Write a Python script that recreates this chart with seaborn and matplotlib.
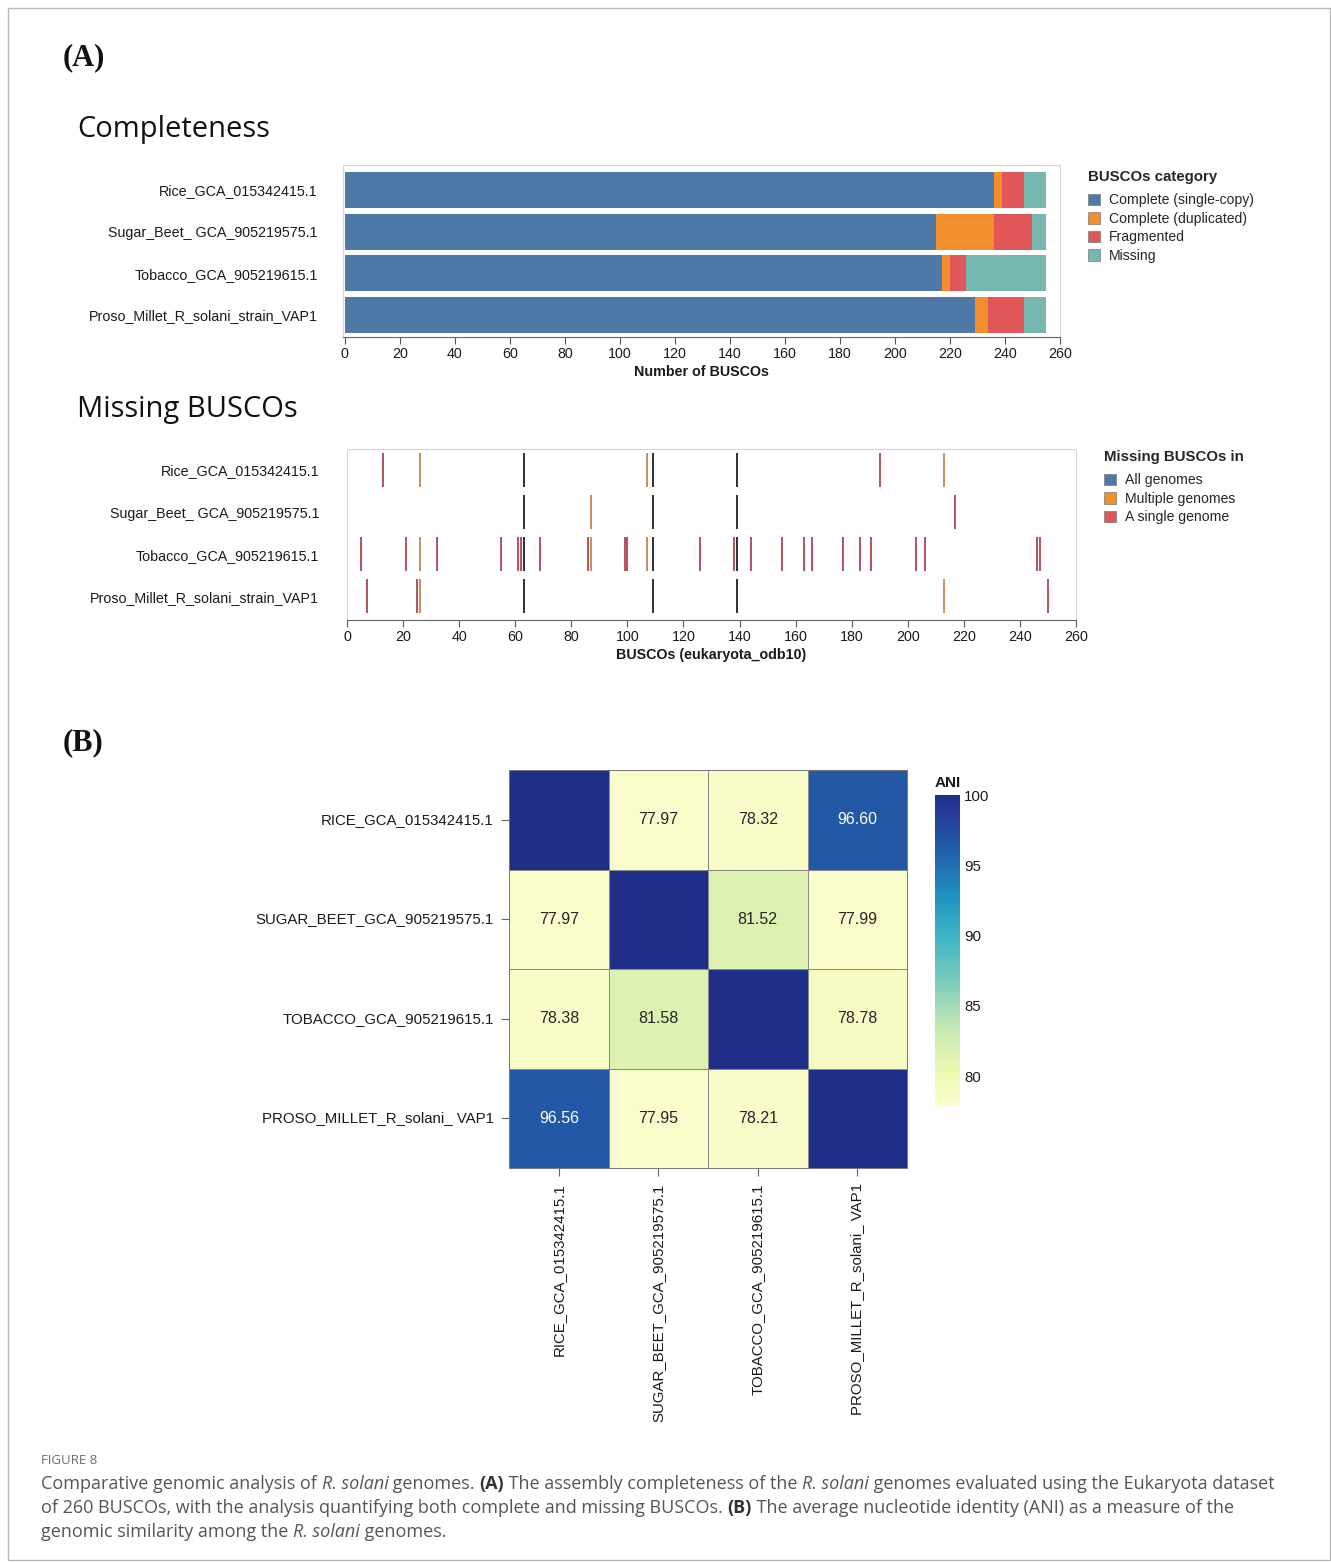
import numpy as np
import pandas as pd
import matplotlib
matplotlib.use("Agg")
import matplotlib.pyplot as plt
import seaborn as sns
from matplotlib.patches import Patch, Rectangle
from matplotlib.colors import LinearSegmentedColormap

# ---------------------------------------------------------------- data
genomes = ["Rice_GCA_015342415.1", "Sugar_Beet_ GCA_905219575.1",
           "Tobacco_GCA_905219615.1", "Proso_Millet_R_solani_strain_VAP1"]

busco_categories = ["Complete (single-copy)", "Complete (duplicated)",
                    "Fragmented", "Missing"]
single_copy = [236, 215, 217, 229]
duplicated = [3, 21, 3, 5]
fragmented = [8, 14, 6, 13]
missing = [8, 5, 29, 8]

# indices of the missing BUSCOs (eukaryota_odb10) per genome
missing_rice = [13, 26, 63, 107, 109, 139, 190, 213]
missing_sugar_beet = [63, 87, 109, 139, 217]
missing_tobacco = [5, 21, 26, 32, 55, 61, 62, 63, 69, 86, 87, 99, 100, 107,
                   109, 126, 138, 139, 144, 155, 163, 166, 177, 183, 187,
                   203, 206, 246, 247]
missing_proso = [7, 25, 26, 63, 109, 139, 213, 250]
missing_groups = ["All genomes", "Multiple genomes", "A single genome"]

ani_labels = ["RICE_GCA_015342415.1", "SUGAR_BEET_GCA_905219575.1",
              "TOBACCO_GCA_905219615.1", "PROSO_MILLET_R_solani_ VAP1"]
ani_rice = [100.00, 77.97, 78.32, 96.60]
ani_sugar_beet = [77.97, 100.00, 81.52, 77.99]
ani_tobacco = [78.38, 81.58, 100.00, 78.78]
ani_proso = [96.56, 77.95, 78.21, 100.00]

# ---------------------------------------------------------------- style
sns.set_theme(style="white")
plt.rcParams["font.family"] = ["Liberation Sans", "DejaVu Sans"]
TXT = "#1a1a1a"
cat_colors = ["#4e79a7", "#f28e2b", "#e15759", "#76b7b2"]
line_colors = {"All genomes": "#2f3033",
               "Multiple genomes": "#c98d5f",
               "A single genome": "#b5525d"}

W, H = 1331, 1562
fig = plt.figure(figsize=(W / 100, H / 100), dpi=100)
fig.patch.set_facecolor("white")


def px_axes(left, top, right, bottom):
    return fig.add_axes([left / W, 1 - bottom / H, (right - left) / W,
                         (bottom - top) / H])


def fig_text(x, y, s, **kw):
    return fig.text(x / W, 1 - y / H, s, **kw)


# outer frame
fig.add_artist(Rectangle((8 / W, 1 - 1560 / H), (1330 - 8) / W, (1560 - 8) / H,
                         transform=fig.transFigure, fill=False,
                         edgecolor="#b8b8b8", linewidth=1.0))

fig_text(63, 58, "(A)", fontsize=22, fontweight="bold",
         family=["Liberation Serif", "DejaVu Serif"], va="center", color="#111")
fig_text(63, 743, "(B)", fontsize=22, fontweight="bold",
         family=["Liberation Serif", "DejaVu Serif"], va="center", color="#111")
fig_text(77, 130, "Completeness", fontsize=21, family=["Open Sans", "DejaVu Sans"],
         va="center", color="#111")
fig_text(77, 409, "Missing BUSCOs", fontsize=21, family=["Open Sans", "DejaVu Sans"],
         va="center", color="#111")


def make_legend(colors, labels, title, x, y):
    leg = fig.legend(handles=[Patch(facecolor=c, edgecolor="#7a7a7a", linewidth=0.5,
                                    label=l) for c, l in zip(colors, labels)],
                     title=title, loc="upper left",
                     bbox_to_anchor=(x / W, 1 - y / H), frameon=False,
                     fontsize=10.1,
                     title_fontproperties={"weight": "bold", "size": 10.8},
                     handlelength=0.9, handleheight=0.9, handletextpad=0.6,
                     labelspacing=0.32, borderaxespad=0)
    leg._legend_box.align = "left"
    leg._legend_box.sep = 7
    return leg


# ---------------------------------------------------------------- completeness
ax1 = px_axes(343, 165, 1060, 337)
counts = pd.DataFrame({"genome": genomes,
                       busco_categories[0]: single_copy,
                       busco_categories[1]: duplicated,
                       busco_categories[2]: fragmented,
                       busco_categories[3]: missing})
cum = counts[busco_categories].cumsum(axis=1)
for cat, col in zip(busco_categories[::-1], cat_colors[::-1]):
    sns.barplot(x=cum[cat], y=counts["genome"], orient="h", color=col,
                saturation=1, width=0.86, linewidth=0, ax=ax1)
ax1.set_xlim(-0.7, 260)
ax1.set_ylim(3.53, -0.6)
ax1.set_xticks(np.arange(0, 261, 20))
ax1.set_xlabel("Number of BUSCOs", fontsize=10.3, fontweight="bold",
               color=TXT, labelpad=3)
ax1.set_ylabel("")
ax1.tick_params(axis="y", length=0, pad=18, labelsize=10.3, labelcolor=TXT)
ax1.tick_params(axis="x", bottom=True, length=5, width=0.8, color="#555",
                pad=2, labelsize=10.3, labelcolor=TXT)
for side in ["top", "right", "left"]:
    ax1.spines[side].set_color("#d6d6d6")
    ax1.spines[side].set_linewidth(0.8)
ax1.spines["bottom"].set_color("#666")
ax1.spines["bottom"].set_linewidth(0.8)

make_legend(cat_colors, busco_categories, "BUSCOs category", 1082, 164)

# ---------------------------------------------------------------- missing BUSCOs
ax2 = px_axes(347, 449, 1076, 620)
per_genome = [missing_rice, missing_sugar_beet, missing_tobacco, missing_proso]
all_idx = pd.Series([i for lst in per_genome for i in lst]).value_counts()


def group_of(idx):
    n = all_idx[idx]
    if n == len(per_genome):
        return missing_groups[0]
    if n > 1:
        return missing_groups[1]
    return missing_groups[2]


rows = []
for g, lst in zip(genomes, per_genome):
    for idx in lst:
        rows.append({"genome": g, "busco": idx, "group": group_of(idx)})
miss_df = pd.DataFrame(rows)
miss_df["row"] = miss_df["genome"].map({g: i for i, g in enumerate(genomes)})
half = 0.415
for grp in missing_groups:
    sub = miss_df[miss_df["group"] == grp]
    ax2.vlines(sub["busco"], sub["row"] - half, sub["row"] + half,
               colors=line_colors[grp], linewidth=1.4)
ax2.set_xlim(0, 260)
ax2.set_ylim(3.57, -0.5)
ax2.set_yticks(range(len(genomes)))
ax2.set_yticklabels(genomes)
ax2.set_xticks(np.arange(0, 261, 20))
ax2.set_xlabel("BUSCOs (eukaryota_odb10)", fontsize=10.3, fontweight="bold",
               color=TXT, labelpad=3)
ax2.tick_params(axis="y", length=0, pad=20, labelsize=10.3, labelcolor=TXT)
ax2.tick_params(axis="x", bottom=True, length=5, width=0.8, color="#555",
                pad=2, labelsize=10.3, labelcolor=TXT)
for side in ["top", "right", "left"]:
    ax2.spines[side].set_color("#d6d6d6")
    ax2.spines[side].set_linewidth(0.8)
ax2.spines["bottom"].set_color("#666")
ax2.spines["bottom"].set_linewidth(0.8)

make_legend(cat_colors[:3], missing_groups, "Missing BUSCOs in", 1098, 444)

# ---------------------------------------------------------------- ANI heatmap
ani = pd.DataFrame([ani_rice, ani_sugar_beet, ani_tobacco, ani_proso],
                   index=ani_labels, columns=ani_labels)
annot = ani.map(lambda v: "" if v >= 100 else f"{v:.2f}")
base = plt.get_cmap("YlGnBu")
cmap = LinearSegmentedColormap.from_list("ani", base(np.linspace(0.04, 0.9, 256)))

ax3 = px_axes(509, 770, 907, 1168)
cax = px_axes(935, 795, 960, 1105)
sns.heatmap(ani, ax=ax3, cbar_ax=cax, cmap=cmap, vmin=ani.values.min(), vmax=100,
            annot=annot, fmt="", annot_kws={"fontsize": 11.5},
            linewidths=0.5, linecolor="#8a8a8a", square=False,
            cbar_kws={"ticks": [80, 85, 90, 95, 100]})
ax3.tick_params(axis="both", length=6, width=0.8, color="#666",
                labelsize=10.8, labelcolor=TXT, pad=5)
ax3.tick_params(axis="y", left=True, rotation=0)
ax3.tick_params(axis="x", bottom=True, rotation=90)
for s in ax3.spines.values():
    s.set_visible(True)
    s.set_color("#777777")
    s.set_linewidth(0.7)
cax.tick_params(length=0, labelsize=10.8, labelcolor=TXT, pad=3)
cax.set_frame_on(False)
cax.set_title("ANI", fontsize=11, fontweight="bold", loc="left", pad=6, color=TXT)

# ---------------------------------------------------------------- caption
fig_text(41, 1461, "FIGURE 8", fontsize=9.5, color="#6d6d6d",
         family=["Open Sans", "DejaVu Sans"], va="center")

renderer = fig.canvas.get_renderer()
cap_kw = dict(fontsize=13.0, color="#555555", family=["Open Sans", "DejaVu Sans"],
              va="center")
caption_lines = [
    [("Comparative genomic analysis of ", "n"), ("R. solani", "i"),
     (" genomes. ", "n"), ("(A)", "b"), (" The assembly completeness of the ", "n"),
     ("R. solani", "i"), (" genomes evaluated using the Eukaryota dataset", "n")],
    [("of 260 BUSCOs, with the analysis quantifying both complete and missing BUSCOs. ", "n"),
     ("(B)", "b"), (" The average nucleotide identity (ANI) as a measure of the", "n")],
    [("genomic similarity among the ", "n"), ("R. solani", "i"), (" genomes.", "n")],
]
for y, runs in zip([1484, 1508, 1532], caption_lines):
    x = 41
    for s, st in runs:
        kw = dict(cap_kw)
        if st == "i":
            kw["fontstyle"] = "italic"
        elif st == "b":
            kw["fontweight"] = "bold"
            kw["color"] = "#333333"
        t = fig_text(x, y, s, **kw)
        x += t.get_window_extent(renderer=renderer).width

fig.savefig("out.png", dpi=100, facecolor="white")
